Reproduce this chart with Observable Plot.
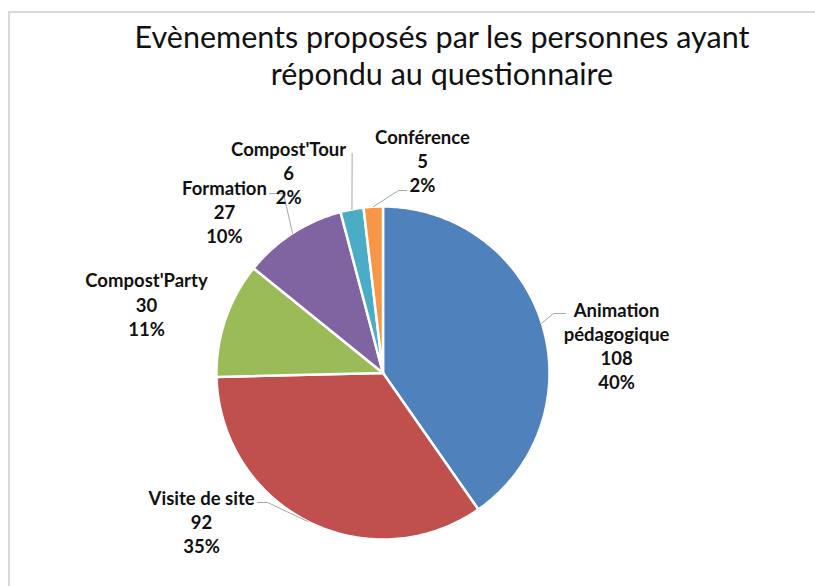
<!DOCTYPE html>
<html>
<head>
<meta charset="utf-8">
<script src="https://cdn.jsdelivr.net/npm/d3@7"></script>
<script src="https://cdn.jsdelivr.net/npm/@observablehq/plot@0.6"></script>
<style>
  html, body { margin: 0; padding: 0; background: #fff; overflow: hidden; width: 815px; height: 586px; }
  #frame { position: absolute; left: 8px; top: 11px; width: 900px; height: 700px; z-index: 5; pointer-events: none;
           border-left: 2px solid #d9d9d9; border-top: 2px solid #d9d9d9; }
  #title { position: absolute; left: 42px; width: 800px; top: 18px; text-align: center;
           font-family: Lato, "Open Sans", sans-serif; font-size: 30.5px; line-height: 37px; color: #111; }
  #chart { position: absolute; left: 0; top: 100px; }
</style>
</head>
<body>
<div id="frame"></div>
<div id="title">Evènements proposés par les personnes ayant<br>répondu au questionnaire</div>
<div id="chart"></div>
<script>
// ---- data ----
const categories = ["Animation pédagogique", "Visite de site", "Compost'Party", "Formation", "Compost'Tour", "Conférence"];
const labelNames = ["Animation\npédagogique", "Visite de site", "Compost'Party", "Formation", "Compost'Tour", "Conférence"];
const counts = [108, 92, 30, 27, 6, 5];
const percentLabels = ["40%", "35%", "11%", "10%", "2%", "2%"];
const colors = ["#4F81BD", "#C0504D", "#9BBB59", "#8064A2", "#4BACC6", "#F79646"];

// ---- layout (pie geometry in page pixels) ----
const CX = 382.5, CY = 372.5, R = 166.5;
// label block centres in polar form around the pie: [angle (deg, clockwise from top), distance / R]
const labelPolar = [[83.16, 1.413], [230.7, 1.408], [286.3, 1.480], [315.6, 1.361], [334.8, 1.331], [10.53, 1.298]];
// leader lines: [elbow offset, end offset] relative to the label centre, null = no leader
const leaderOffsets = [
  [[-63, -31.5], [-51, -31.5]],
  [[66, -19], [56, -19]],
  null,
  [[59, -17.5], [45, -17.5]],
  [[63.5, -19], [63.5, -19]],
  [[-24, 30], [-16, 30]]
];

const total = d3.sum(counts);
const polar = (deg, r) => {
  const a = deg * Math.PI / 180;
  return [CX + r * Math.sin(a), CY - r * Math.cos(a)];
};

// slice polygons
const slicePts = [];
const mids = [];
let acc = 0;
categories.forEach((name, i) => {
  const a0 = acc / total * 360;
  acc += counts[i];
  const a1 = acc / total * 360;
  mids.push((a0 + a1) / 2);
  slicePts.push({name, x: CX, y: CY});
  const n = Math.max(2, Math.ceil((a1 - a0) / 1));
  for (let k = 0; k <= n; k++) {
    const [x, y] = polar(a0 + (a1 - a0) * k / n, R);
    slicePts.push({name, x, y});
  }
});

// labels
const labels = categories.map((name, i) => {
  const [x, y] = polar(labelPolar[i][0], labelPolar[i][1] * R);
  return {name, x, y, text: `${labelNames[i]}\n${counts[i]}\n${percentLabels[i]}`};
});

// leaders
const leaderPts = [];
categories.forEach((name, i) => {
  const off = leaderOffsets[i];
  if (!off) return;
  const [sx, sy] = polar(mids[i], R);
  const L = labels[i];
  leaderPts.push({name, x: sx, y: sy});
  leaderPts.push({name, x: L.x + off[0][0], y: L.y + off[0][1]});
  leaderPts.push({name, x: L.x + off[1][0], y: L.y + off[1][1]});
});

const chart = Plot.plot({
  width: 815,
  height: 486,
  margin: 0,
  style: {background: "transparent", fontFamily: "Lato, 'Open Sans', sans-serif"},
  x: {domain: [0, 815], range: [0, 815], axis: null},
  y: {domain: [100, 586], range: [0, 486], axis: null},
  color: {domain: categories, range: colors},
  marks: [
    Plot.line(slicePts, {x: "x", y: "y", z: "name", fill: "name", stroke: "white", strokeWidth: 2.5, curve: "linear-closed"}),
    Plot.line(leaderPts, {x: "x", y: "y", z: "name", stroke: "#a6a6a6", strokeWidth: 1, curve: "linear"}),
    Plot.text(labels, {x: "x", y: "y", text: "text", fontSize: 18.5, fontWeight: "bold", lineHeight: 1.3, fill: "#111", textAnchor: "middle", lineAnchor: "middle"})
  ]
});
document.getElementById("chart").appendChild(chart);
</script>
</body>
</html>
